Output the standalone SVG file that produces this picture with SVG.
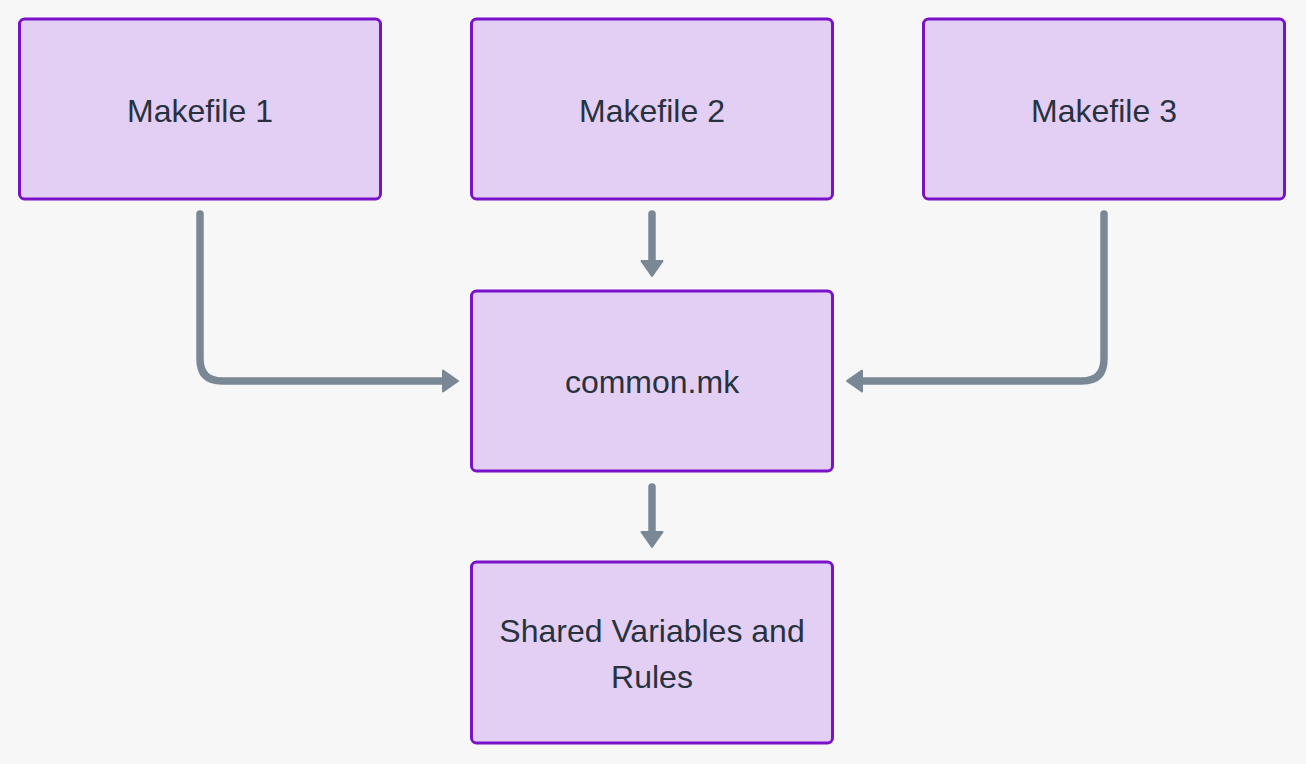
<svg xmlns="http://www.w3.org/2000/svg" width="1306" height="764" viewBox="0 0 1306 764">
  <style>
    .node rect { fill: #e2cff3; stroke: #7a12c9; stroke-width: 3; }
    .node text { font-family: "Liberation Sans", Arial, sans-serif; font-size: 32px; fill: #28323f; text-anchor: middle; }
    .edge { fill: none; stroke: #7a8896; stroke-width: 7.5; stroke-linecap: round; stroke-linejoin: round; }
  </style>
  <defs>
    <marker id="arrow" viewBox="0 0 17 24" refX="0" refY="12" markerWidth="17" markerHeight="24" markerUnits="userSpaceOnUse" orient="auto">
      <path d="M1,1.5 L16,12 L1,22.5 Z" fill="#7a8896" stroke="#7a8896" stroke-width="2" stroke-linejoin="round"/>
    </marker>
  </defs>
  <rect width="1306" height="764" fill="#f7f7f7"/>
  <g id="connectors">
    <path class="edge" d="M200,214 L200,359 Q200,381 222,381 L442,381" marker-end="url(#arrow)"/>
    <path class="edge" d="M652,214 L652,260" marker-end="url(#arrow)"/>
    <path class="edge" d="M1104,214 L1104,359 Q1104,381 1082,381 L863,381" marker-end="url(#arrow)"/>
    <path class="edge" d="M652,487 L652,531" marker-end="url(#arrow)"/>
  </g>
  <g id="makefile1" class="node">
    <rect x="19.5" y="19" width="361" height="180" rx="5"/>
    <text x="200" y="122">Makefile 1</text>
  </g>
  <g id="makefile2" class="node">
    <rect x="471.5" y="19" width="361" height="180" rx="5"/>
    <text x="652" y="122">Makefile 2</text>
  </g>
  <g id="makefile3" class="node">
    <rect x="923.5" y="19" width="361" height="180" rx="5"/>
    <text x="1104" y="122">Makefile 3</text>
  </g>
  <g id="common" class="node">
    <rect x="471.5" y="291" width="361" height="180" rx="5"/>
    <text x="652" y="393">common.mk</text>
  </g>
  <g id="shared" class="node">
    <rect x="471.5" y="562" width="361" height="181" rx="5"/>
    <text x="652" y="642">Shared Variables and</text>
    <text x="652" y="688">Rules</text>
  </g>
</svg>
